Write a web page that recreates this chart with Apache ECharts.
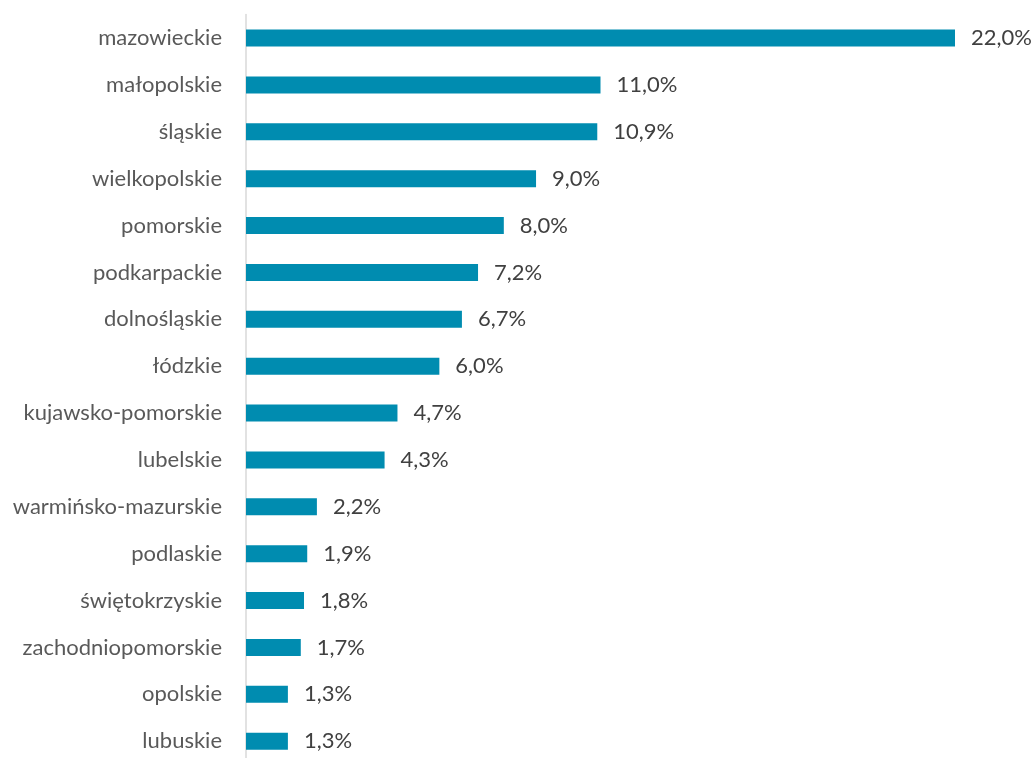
<!DOCTYPE html>
<html>
<head>
<meta charset="utf-8">
<script src="https://cdn.jsdelivr.net/npm/echarts@6/dist/echarts.min.js"></script>
<style>
  html, body { margin: 0; padding: 0; background: #fff; overflow: hidden; }
  #chart { width: 1033px; height: 772px; }
</style>
</head>
<body>
<div id="chart"></div>
<script>
// Share of each voivodeship, in percent (top to bottom)
const regions = [
  'mazowieckie', 'małopolskie', 'śląskie', 'wielkopolskie', 'pomorskie',
  'podkarpackie', 'dolnośląskie', 'łódzkie', 'kujawsko-pomorskie', 'lubelskie',
  'warmińsko-mazurskie', 'podlaskie', 'świętokrzyskie', 'zachodniopomorskie',
  'opolskie', 'lubuskie'
];
const shares = [22.0, 11.0, 10.9, 9.0, 8.0, 7.2, 6.7, 6.0, 4.7, 4.3, 2.2, 1.9, 1.8, 1.7, 1.3, 1.3];

const FONT = 'Lato, "Open Sans", sans-serif';
const chart = echarts.init(document.getElementById('chart'), null, { renderer: 'canvas' });

// The plot runs a little past the bottom edge of the page, so the last
// category band is cut off just like the axis line below it.
chart.setOption({
  animation: false,
  grid: { left: 246, right: 78, top: 14.6, height: 750 },
  xAxis: {
    type: 'value',
    min: 0,
    max: 22,
    show: false
  },
  yAxis: {
    type: 'category',
    inverse: true,
    data: regions,
    axisLine: { show: true, lineStyle: { color: '#d9d9d9', width: 1.5 } },
    axisTick: { show: false },
    axisLabel: {
      color: '#595959',
      fontFamily: FONT,
      fontSize: 22,
      margin: 24
    }
  },
  series: [{
    type: 'bar',
    data: shares,
    barWidth: 17,
    itemStyle: { color: '#008CB0' },
    label: {
      show: true,
      position: 'right',
      distance: 16,
      color: '#404040',
      fontFamily: FONT,
      fontSize: 22,
      formatter: p => p.value.toFixed(1).replace('.', ',') + '%'
    }
  }]
});
</script>
</body>
</html>
